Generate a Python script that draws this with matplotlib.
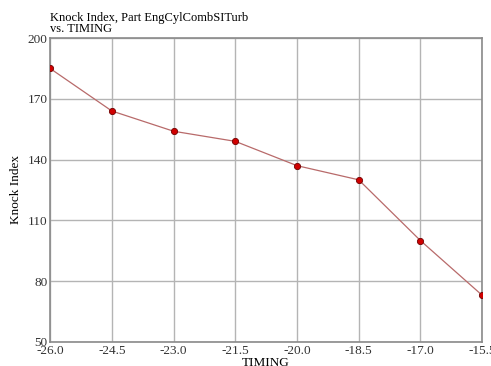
import matplotlib.pyplot as plt

# Knock index vs spark timing
timing = [-26.0, -24.5, -23.0, -21.5, -20.0, -18.5, -17.0, -15.5]
knock_index = [185, 164, 154, 149, 137, 130, 100, 73]

x_ticks = [-26.0, -24.5, -23.0, -21.5, -20.0, -18.5, -17.0, -15.5]
y_ticks = [50, 80, 110, 140, 170, 200]

plt.rcParams['font.family'] = ['Liberation Serif', 'DejaVu Serif']
plt.rcParams['font.size'] = 9

fig = plt.figure(figsize=(4.91, 3.66), dpi=100)
ax = fig.add_axes([0.102, 0.066, 0.880, 0.830])

ax.plot(timing, knock_index, color='#b86a6a', linewidth=0.9,
        marker='o', markersize=4.5, markerfacecolor='#d00000',
        markeredgecolor='#700000', markeredgewidth=0.6, zorder=3)

ax.set_xlim(-26.0, -15.5)
ax.set_ylim(50, 200)
ax.set_xticks(x_ticks)
ax.set_xticklabels([f'{t:.1f}' for t in x_ticks])
ax.set_yticks(y_ticks)
ax.grid(True, color='#b4b4b4', linewidth=1.0)
ax.set_axisbelow(True)

for spine in ax.spines.values():
    spine.set_color('#8a8a8a')
    spine.set_linewidth(1.2)
ax.tick_params(length=0, pad=2, colors='#333333', labelsize=9.5)

ax.set_xlabel('TIMING', labelpad=0, fontsize=9.5)
ax.set_ylabel('Knock Index', labelpad=4, fontsize=9.5)

fig.text(0.102, 0.968, 'Knock Index, Part EngCylCombSITurb\nvs. TIMING',
         ha='left', va='top', fontsize=9, linespacing=0.95)

fig.savefig('out.png', dpi=100)
